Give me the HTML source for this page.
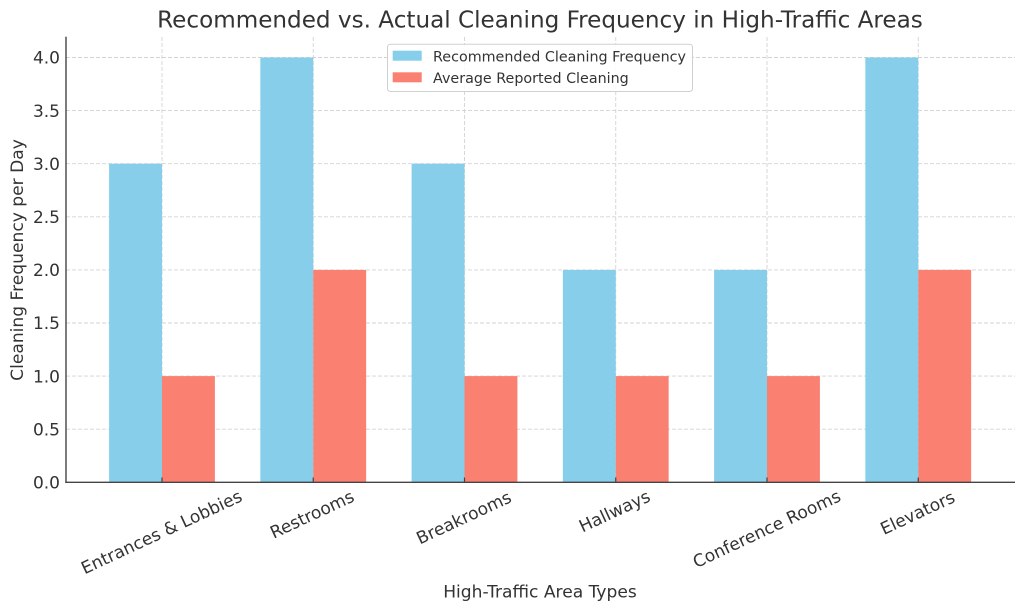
<!DOCTYPE html>
<html>
<head>
<meta charset="utf-8">
<style>
  html,body{margin:0;padding:0;background:#fff;}
  svg{display:block;}
  text{font-family:"DejaVu Sans","Liberation Sans",sans-serif;fill:#333;}
</style>
</head>
<body>
<svg width="1024" height="611" viewBox="0 0 1024 611" xmlns="http://www.w3.org/2000/svg">
  <rect x="0" y="0" width="1024" height="611" fill="#fff"/>

  <!-- horizontal grid -->
  <g stroke="#d3d3d3" stroke-width="0.9" stroke-dasharray="4,2">
    <line x1="66" y1="429.2" x2="1015" y2="429.2"/>
    <line x1="66" y1="376.1" x2="1015" y2="376.1"/>
    <line x1="66" y1="323.0" x2="1015" y2="323.0"/>
    <line x1="66" y1="269.9" x2="1015" y2="269.9"/>
    <line x1="66" y1="216.8" x2="1015" y2="216.8"/>
    <line x1="66" y1="163.7" x2="1015" y2="163.7"/>
    <line x1="66" y1="110.6" x2="1015" y2="110.6"/>
    <line x1="66" y1="57.5" x2="1015" y2="57.5"/>
    <!-- vertical grid -->
    <line x1="162" y1="37" x2="162" y2="482.3"/>
    <line x1="313.25" y1="37" x2="313.25" y2="482.3"/>
    <line x1="464.5" y1="37" x2="464.5" y2="482.3"/>
    <line x1="615.75" y1="37" x2="615.75" y2="482.3"/>
    <line x1="767" y1="37" x2="767" y2="482.3"/>
    <line x1="918.25" y1="37" x2="918.25" y2="482.3"/>
  </g>

  <!-- bars: recommended (skyblue) -->
  <g fill="#87CEEB">
    <rect x="109.1" y="163.7" width="52.9" height="318.6"/>
    <rect x="260.35" y="57.5" width="52.9" height="424.8"/>
    <rect x="411.6" y="163.7" width="52.9" height="318.6"/>
    <rect x="562.85" y="269.9" width="52.9" height="212.4"/>
    <rect x="714.1" y="269.9" width="52.9" height="212.4"/>
    <rect x="865.35" y="57.5" width="52.9" height="424.8"/>
  </g>
  <!-- bars: actual (salmon) -->
  <g fill="#FA8072">
    <rect x="162" y="376.1" width="52.9" height="106.2"/>
    <rect x="313.25" y="269.9" width="52.9" height="212.4"/>
    <rect x="464.5" y="376.1" width="52.9" height="106.2"/>
    <rect x="615.75" y="376.1" width="52.9" height="106.2"/>
    <rect x="767" y="376.1" width="52.9" height="106.2"/>
    <rect x="918.25" y="269.9" width="52.9" height="212.4"/>
  </g>

  <!-- x ticks (inward) -->
  <g stroke="#444" stroke-width="1.2">
    <line x1="162" y1="477.5" x2="162" y2="482.3"/>
    <line x1="313.25" y1="477.5" x2="313.25" y2="482.3"/>
    <line x1="464.5" y1="477.5" x2="464.5" y2="482.3"/>
    <line x1="615.75" y1="477.5" x2="615.75" y2="482.3"/>
    <line x1="767" y1="477.5" x2="767" y2="482.3"/>
    <line x1="918.25" y1="477.5" x2="918.25" y2="482.3"/>
  </g>

  <!-- spines -->
  <line x1="66" y1="36.7" x2="66" y2="483" stroke="#444" stroke-width="1.4"/>
  <line x1="65.3" y1="482.3" x2="1015" y2="482.3" stroke="#444" stroke-width="1.4"/>

  <!-- y tick labels -->
  <g font-size="17" text-anchor="end">
    <text x="60" y="488.5">0.0</text>
    <text x="60" y="435.4">0.5</text>
    <text x="60" y="382.3">1.0</text>
    <text x="60" y="329.2">1.5</text>
    <text x="60" y="276.1">2.0</text>
    <text x="60" y="223.0">2.5</text>
    <text x="60" y="169.9">3.0</text>
    <text x="60" y="116.8">3.5</text>
    <text x="60" y="63.7">4.0</text>
  </g>

  <!-- x tick labels rotated -->
  <g font-size="17.1" text-anchor="middle">
    <text x="161.5" y="538" transform="rotate(-25 161.5 532)">Entrances &amp; Lobbies</text>
    <text x="312" y="520.3" transform="rotate(-25 312 514.3)">Restrooms</text>
    <text x="463.8" y="523.5" transform="rotate(-25 463.8 517.5)">Breakrooms</text>
    <text x="615" y="517" transform="rotate(-25 615 512.2)">Hallways</text>
    <text x="766.7" y="534.8" transform="rotate(-25 766.7 528.8)">Conference Rooms</text>
    <text x="917.5" y="518.8" transform="rotate(-25 917.5 512.8)">Elevators</text>
  </g>

  <!-- axis labels -->
  <text x="540" y="597.5" font-size="17.1" text-anchor="middle">High-Traffic Area Types</text>
  <text x="23" y="260" font-size="17.1" text-anchor="middle" transform="rotate(-90 23 260)">Cleaning Frequency per Day</text>

  <!-- title -->
  <text x="540" y="27.5" font-size="23.1" text-anchor="middle">Recommended vs. Actual Cleaning Frequency in High-Traffic Areas</text>

  <!-- legend -->
  <rect x="387.5" y="44.2" width="305" height="47.3" rx="3" ry="3" fill="#fff" fill-opacity="0.85" stroke="#d0d0d0" stroke-width="1"/>
  <rect x="392.7" y="50.7" width="29" height="10" fill="#87CEEB"/>
  <rect x="392.7" y="72.3" width="29" height="10" fill="#FA8072"/>
  <text x="433" y="61.6" font-size="14.3">Recommended Cleaning Frequency</text>
  <text x="433" y="83.2" font-size="14.3">Average Reported Cleaning</text>
</svg>
</body>
</html>
